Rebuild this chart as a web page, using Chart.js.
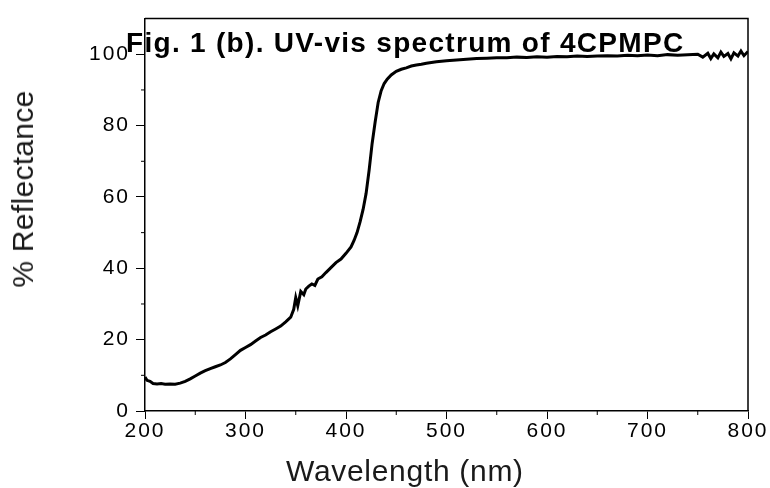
<!DOCTYPE html>
<html>
<head>
<meta charset="utf-8">
<script src="https://cdn.jsdelivr.net/npm/chart.js@4"></script>
<style>
  html, body { margin: 0; padding: 0; background: #fff; }
  #wrap { position: relative; width: 770px; height: 488px; }
  .lbl { position: absolute; white-space: nowrap; line-height: 1; font-family: "Liberation Sans", Arial, sans-serif; }
  #title { left: 126px; top: 29px; font-size: 28px; font-weight: bold; letter-spacing: 1.3px; color: #000; }
  #xtitle { left: 286px; top: 456px; font-size: 30px; letter-spacing: 0.7px; color: #1a1a1a; }
  #ytitle { left: 23px; top: 189px; font-size: 30px; letter-spacing: 0.3px; color: #1a1a1a;
            transform: translate(-50%, -50%) rotate(-90deg); }
</style>
</head>
<body>
<div id="wrap">
  <canvas id="chart" width="770" height="488"></canvas>
  <div id="title" class="lbl">Fig. 1 (b). UV-vis spectrum of 4CPMPC</div>
  <div id="xtitle" class="lbl">Wavelength (nm)</div>
  <div id="ytitle" class="lbl">% Reflectance</div>
</div>
<script>
// values
const wavelengths = [200, 202, 205, 208, 212, 216, 220, 225, 230, 235, 240, 245, 250, 255, 260, 265, 270, 275, 280, 285,
  290, 295, 300, 305, 310, 315, 320, 325, 330, 335, 340, 345, 348, 350, 352, 355, 358, 360, 363, 366,
  369, 372, 376, 380, 385, 390, 395, 400, 405, 408, 411, 414, 417, 420, 423, 426, 429, 432, 435, 438,
  441, 445, 450, 455, 460, 465, 470, 475, 480, 490, 500, 510, 520, 530, 540, 550, 560, 570, 580, 590,
  600, 610, 620, 630, 640, 650, 660, 670, 680, 690, 700, 710, 720, 730, 740, 750, 755, 760, 763, 766,
  770, 773, 776, 780, 783, 786, 790, 793, 796, 800];
const reflectance = [9.5, 8.6, 8.3, 7.7, 7.6, 7.7, 7.5, 7.6, 7.5, 7.8, 8.3, 9.0, 9.8, 10.6, 11.3, 11.9, 12.4, 12.9, 13.6, 14.6,
  15.8, 17.0, 17.8, 18.6, 19.6, 20.6, 21.3, 22.2, 23.0, 23.8, 25.0, 26.3, 28.5, 31.8, 29.5, 33.5, 32.6, 34.2, 35.0, 35.6,
  35.2, 37.0, 37.6, 38.8, 40.2, 41.6, 42.6, 44.2, 46.0, 47.8, 50.0, 53.0, 56.5, 61.0, 67.5, 75.0, 81.0, 86.5, 89.8, 91.8,
  93.0, 94.2, 95.2, 95.8, 96.2, 96.7, 97.0, 97.2, 97.5, 97.9, 98.2, 98.4, 98.6, 98.8, 98.9, 99.0, 99.0, 99.2, 99.1, 99.3,
  99.2, 99.4, 99.3, 99.5, 99.4, 99.5, 99.6, 99.5, 99.7, 99.6, 99.8, 99.6, 99.9, 99.7, 99.9, 100.0, 99.2, 100.3, 98.8, 100.1,
  99.0, 100.6, 99.4, 100.2, 98.7, 100.4, 99.5, 100.9, 99.6, 100.8];
const xTickValues = [200, 300, 400, 500, 600, 700, 800];
const yTickValues = [0, 20, 40, 60, 80, 100];
const xMinorTicks = [250, 350, 450, 550, 650, 750];
const yMinorTicks = [10, 30, 50, 70, 90];

const points = wavelengths.map((w, i) => ({ x: w, y: reflectance[i] }));

// frame on top/right plus the short minor ticks
const framePlugin = {
  id: 'frame',
  beforeDraw(chart) {
    chart.ctx.letterSpacing = '2px';
  },
  afterDraw(chart) {
    const { ctx, chartArea: a, scales } = chart;
    ctx.save();
    ctx.strokeStyle = '#000';
    ctx.lineWidth = 1.5;
    ctx.beginPath();
    ctx.moveTo(a.left, a.top);
    ctx.lineTo(a.right, a.top);
    ctx.lineTo(a.right, a.bottom);
    ctx.stroke();
    ctx.lineWidth = 1;
    ctx.beginPath();
    xMinorTicks.forEach(v => {
      const px = scales.x.getPixelForValue(v);
      ctx.moveTo(px, a.bottom);
      ctx.lineTo(px, a.bottom + 4);
    });
    yMinorTicks.forEach(v => {
      const py = scales.y.getPixelForValue(v);
      ctx.moveTo(a.left, py);
      ctx.lineTo(a.left - 4, py);
    });
    ctx.stroke();
    ctx.restore();
  }
};

const tickFont = { family: '"Liberation Sans", Arial, sans-serif', size: 21 };

new Chart(document.getElementById('chart'), {
  type: 'line',
  data: {
    datasets: [{
      data: points,
      borderColor: '#000',
      borderWidth: 3,
      pointRadius: 0,
      tension: 0,
      fill: false
    }]
  },
  options: {
    responsive: false,
    animation: false,
    layout: { padding: { top: 12, right: 22, left: 0, bottom: 0 } },
    plugins: { legend: { display: false }, tooltip: { enabled: false } },
    scales: {
      x: {
        type: 'linear',
        min: 200,
        max: 800,
        afterBuildTicks: s => { s.ticks = xTickValues.map(v => ({ value: v })); },
        afterFit: s => { s.height = 77; },
        grid: { drawOnChartArea: false, tickLength: 8, tickColor: '#000', tickWidth: 1 },
        border: { color: '#000', width: 1.5 },
        ticks: { color: '#000', font: tickFont, padding: 0, maxRotation: 0 }
      },
      y: {
        min: 0,
        max: 110,
        afterBuildTicks: s => { s.ticks = yTickValues.map(v => ({ value: v })); },
        afterFit: s => { s.width = 145; },
        grid: { drawOnChartArea: false, tickLength: 9, tickColor: '#000', tickWidth: 1 },
        border: { color: '#000', width: 1.5 },
        ticks: { color: '#000', font: tickFont, padding: 6 }
      }
    }
  },
  plugins: [framePlugin]
});
</script>
</body>
</html>
